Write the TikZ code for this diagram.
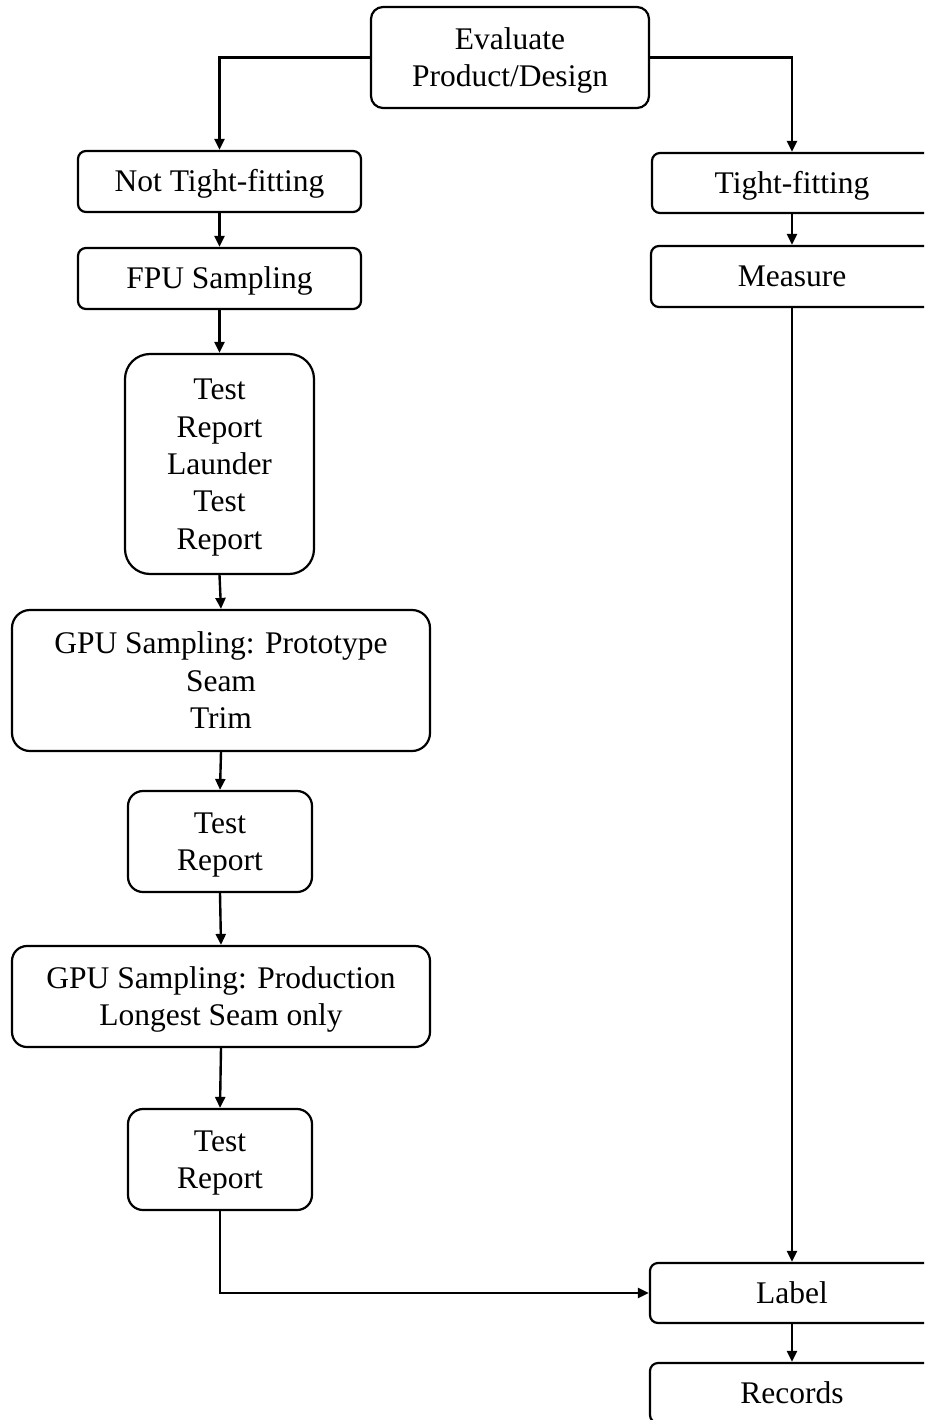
\documentclass[tikz,border=0pt]{standalone}
\usepackage{fontspec}
\setmainfont{Liberation Serif}
\usetikzlibrary{arrows.meta}
\newcommand{\Ln}[1]{\smash{#1}}
\newcommand{\Tp}{\rule{0pt}{21pt}}
\begin{document}
\begin{tikzpicture}[x=1pt,y=-1pt,
  box/.style={draw=black, line width=2.2pt, fill=white, inner sep=0pt,
    align=center, font=\fontsize{31.5}{37.3}\selectfont},
  conn/.style={draw=black, line width=2.4pt, -{Triangle[length=11pt,width=10pt]}}]
\useasboundingbox (0,0) rectangle (924,1420);
\clip (0,0) rectangle (924,1420);
\fill[white] (0,0) rectangle (924,1420);

% left column
\node[box, rounded corners=12pt, minimum width=278pt, minimum height=101pt] (eval) at (510,57.5)
  {\Tp\Ln{Evaluate}\\\Ln{Product/Design}};
\node[box, rounded corners=8pt, minimum width=283pt, minimum height=61pt] (ntf) at (219.5,181.5)
  {\Tp\Ln{Not Tight-fitting}};
\node[box, rounded corners=8pt, minimum width=283pt, minimum height=61pt] (fpu) at (219.5,278.5)
  {\Tp\Ln{FPU Sampling}};
\node[box, rounded corners=25pt, minimum width=189pt, minimum height=220pt] (tr1) at (219.5,464)
  {\Tp\Ln{Test}\\\Ln{Report}\\\Ln{Launder}\\\Ln{Test}\\\Ln{Report}};
\node[box, rounded corners=18pt, minimum width=418pt, minimum height=141pt] (gpu1) at (221,680.5)
  {\Tp\Ln{GPU Sampling: Prototype}\\\Ln{Seam}\\\Ln{Trim}};
\node[box, rounded corners=15pt, minimum width=184pt, minimum height=101pt] (tr2) at (220,841.5)
  {\Tp\Ln{Test}\\\Ln{Report}};
\node[box, rounded corners=15pt, minimum width=418pt, minimum height=101pt] (gpu2) at (221,996.5)
  {\Tp\Ln{GPU Sampling: Production}\\\Ln{Longest Seam only}};
\node[box, rounded corners=15pt, minimum width=184pt, minimum height=101pt] (tr3) at (220,1159.5)
  {\Tp\Ln{Test}\\\Ln{Report}};

% right column
\node[box, rounded corners=8pt, minimum width=280pt, minimum height=60pt] (tf) at (792,183)
  {\Tp\Ln{Tight-fitting}};
\node[box, rounded corners=8pt, minimum width=282pt, minimum height=61pt] (meas) at (792,276.5)
  {\Tp\Ln{Measure}};
\node[box, rounded corners=8pt, minimum width=284pt, minimum height=60pt] (label) at (792,1293)
  {\Tp\Ln{Label}};
\node[box, rounded corners=8pt, minimum width=284pt, minimum height=60pt] (rec) at (792,1393)
  {\Tp\Ln{Records}};

% connectors
\draw[conn] (eval.west) -| (ntf.north);
\draw[conn] (eval.east) -| (tf.north);
\draw[conn] (ntf.south) -- (fpu.north);
\draw[conn] (fpu.south) -- (tr1.north);
\draw[conn] (tr1.south) -- (gpu1.north);
\draw[conn] (gpu1.south) -- (tr2.north);
\draw[conn] (tr2.south) -- (gpu2.north);
\draw[conn] (gpu2.south) -- (tr3.north);
\draw[conn] (tr3.south) |- (label.west);
\draw[conn] (tf.south) -- (meas.north);
\draw[conn] (meas.south) -- (label.north);
\draw[conn] (label.south) -- (rec.north);
\end{tikzpicture}
\end{document}
